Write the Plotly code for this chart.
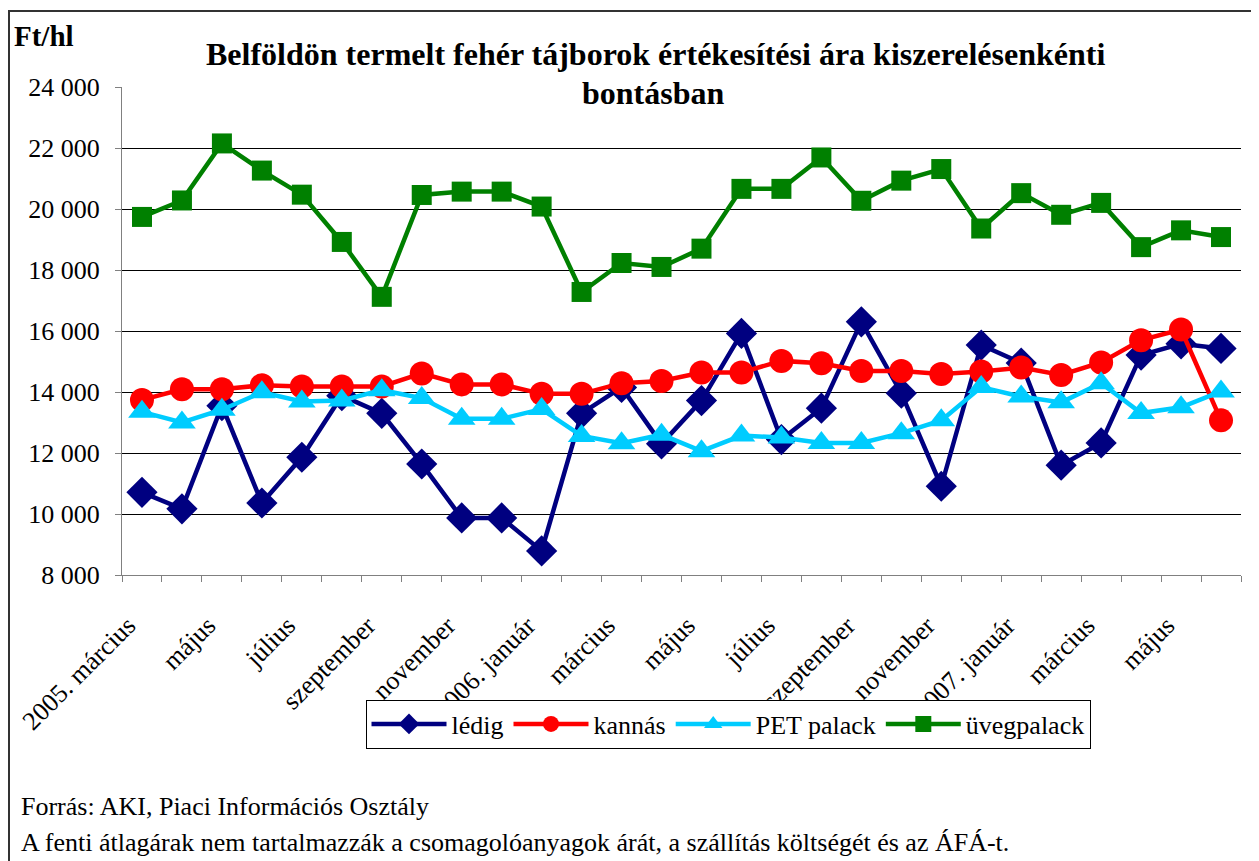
import plotly.graph_objects as go

months = ["2005. március", "április", "május", "június", "július", "augusztus",
          "szeptember", "október", "november", "december",
          "2006. január", "február", "március", "április", "május", "június",
          "július", "augusztus", "szeptember", "október", "november", "december",
          "2007. január", "február", "március", "április", "május", "június"]

ledig = [10710, 10170, 13550, 10360, 11860, 13880, 13300, 11640, 9870, 9870,
         8790, 13300, 14150, 12300, 13720, 15920, 12440, 13470, 16300, 13960,
         10910, 15540, 14950, 11600, 12330, 15210, 15580, 15430]
kannas = [13740, 14090, 14090, 14220, 14180, 14180, 14180, 14610, 14250, 14250,
          13940, 13940, 14290, 14360, 14640, 14640, 15020, 14940, 14690, 14690,
          14590, 14670, 14800, 14560, 14970, 15700, 16050, 13070]
pet = [13350, 13000, 13420, 13990, 13690, 13720, 14060, 13800, 13120, 13120,
       13440, 12560, 12320, 12600, 12060, 12570, 12510, 12330, 12330, 12650,
       13070, 14160, 13850, 13660, 14290, 13310, 13500, 14020]
uveg = [19740, 20280, 22150, 21260, 20470, 18920, 17120, 20460, 20570, 20570,
        20080, 17280, 18230, 18100, 18700, 20660, 20660, 21690, 20270, 20930,
        21310, 19360, 20520, 19810, 20200, 18750, 19300, 19080]

tick_idx = list(range(0, 28, 2))
tick_labels = ["2005. március", "május", "július", "szeptember", "november",
               "2006. január", "március", "május", "július", "szeptember",
               "november", "2007. január", "március", "május"]

# page body margin offset (8px) compensation
OFF = 8
W, H = 1259 - OFF, 861 - OFF
L, R, T, B = 122, 1241, 87, 575   # plot area in screen pixels

def px(x):
    return (x - L) / (R - L)

def py(y):
    return (B - y) / (B - T)

xs = list(range(len(months)))
FONT = "Liberation Serif, Times New Roman, serif"

fig = go.Figure()
fig.add_trace(go.Scatter(x=xs, y=ledig, name="lédig", mode="lines+markers",
                         line=dict(color="#000080", width=4.5),
                         marker=dict(symbol="diamond", size=24, color="#000080")))
fig.add_trace(go.Scatter(x=xs, y=kannas, name="kannás", mode="lines+markers",
                         line=dict(color="#FF0000", width=4.5),
                         marker=dict(symbol="circle", size=24, color="#FF0000")))
fig.add_trace(go.Scatter(x=xs, y=pet, name="PET palack", mode="lines+markers",
                         line=dict(color="#00CCFF", width=4.5),
                         marker=dict(symbol="triangle-up", size=24, color="#00CCFF")))
fig.add_trace(go.Scatter(x=xs, y=uveg, name="üvegpalack", mode="lines+markers",
                         line=dict(color="#008000", width=4.5),
                         marker=dict(symbol="square", size=20, color="#008000")))

fig.update_layout(
    width=W, height=H,
    margin=dict(l=L - OFF, r=W - (R - OFF), t=T - OFF, b=H - (B - OFF), autoexpand=False),
    paper_bgcolor="white", plot_bgcolor="white",
    font=dict(family=FONT, size=26, color="black"),
    separators=", ",
    showlegend=True,
    legend=dict(orientation="h", x=px(728), y=py(724), xanchor="center", yanchor="middle",
                bordercolor="black", borderwidth=1, bgcolor="white",
                font=dict(family=FONT, size=26), itemwidth=75,
                tracegroupgap=0),
    xaxis=dict(range=[-0.5, 27.5], tickmode="array", tickvals=tick_idx, ticktext=tick_labels,
               tickangle=-45, ticks="", showgrid=False, zeroline=False, automargin=False,
               showline=True, linecolor="#808080", linewidth=1,
               tickfont=dict(family=FONT, size=26),
               ticklabelstandoff=24, ticklabelshift=-14,
               minor=dict(tickmode="array", tickvals=[i - 0.5 for i in range(len(months) + 1)],
                          ticks="outside", ticklen=6, tickcolor="#808080", showgrid=False)),
    yaxis=dict(range=[8000, 24000], dtick=2000, tickformat=",d", automargin=False,
               showgrid=True, gridcolor="black", gridwidth=1, zeroline=False,
               showline=True, linecolor="#808080", linewidth=1,
               ticks="outside", ticklen=6, tickcolor="#808080",
               tickfont=dict(family=FONT, size=26), ticklabelstandoff=10),
)

fig.add_shape(type="rect", xref="paper", yref="paper",
              x0=px(9), x1=px(1275), y0=py(880), y1=py(11),
              line=dict(color="#333333", width=2), fillcolor="rgba(0,0,0,0)", layer="below")

ann = [
    dict(text="<b>Ft/hl</b>", x=px(12), y=py(36), xanchor="left", yanchor="middle", size=29),
    dict(text="<b>Belföldön termelt fehér tájborok értékesítési ára kiszerelésenkénti</b>",
         x=px(655), y=py(54), xanchor="center", yanchor="middle", size=32),
    dict(text="<b>bontásban</b>", x=px(653), y=py(93), xanchor="center", yanchor="middle", size=32),
    dict(text="Forrás: AKI, Piaci Információs Osztály", x=px(19), y=py(806),
         xanchor="left", yanchor="middle", size=26),
    dict(text="A fenti átlagárak nem tartalmazzák a csomagolóanyagok árát, a szállítás költségét és az ÁFÁ-t.",
         x=px(19), y=py(842), xanchor="left", yanchor="middle", size=26),
]
for a in ann:
    fig.add_annotation(text=a["text"], x=a["x"], y=a["y"], xref="paper", yref="paper",
                       xanchor=a["xanchor"], yanchor=a["yanchor"], showarrow=False,
                       font=dict(family=FONT, size=a["size"], color="black"))

fig.write_html("out.html")
